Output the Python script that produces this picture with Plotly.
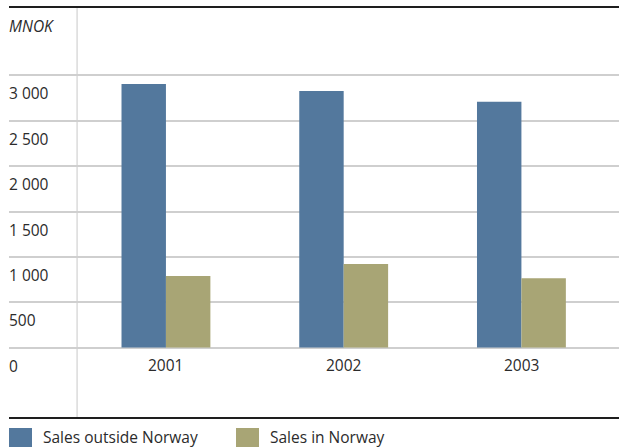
import plotly.graph_objects as go

# Annual sales, MNOK
years = ["2001", "2002", "2003"]
sales_outside = [2905, 2830, 2710]
sales_norway = [790, 920, 765]

series_names = ["Sales outside Norway", "Sales in Norway"]
series_colors = ["#53789d", "#a8a575"]

y_tickvals = [0, 500, 1000, 1500, 2000, 2500, 3000]
y_ticktext = ["0", "500", "1 000", "1 500", "2 000", "2 500", "3 000"]
unit_label = "MNOK"

FONT = "Open Sans"
FSIZE = 15.5
TEXT_COLOR = "#2b2b2b"

W, H = 619, 447
PLOT_L, PLOT_R, PLOT_T, PLOT_B = 9, 619, 8, 417


def paper_x(px):
    return (px - PLOT_L) / (PLOT_R - PLOT_L)


def paper_y(py):
    return (PLOT_B - py) / (PLOT_B - PLOT_T)


fig = go.Figure()
for name, vals, col in zip(series_names, [sales_outside, sales_norway], series_colors):
    fig.add_trace(go.Bar(x=years, y=vals, name=name, marker=dict(color=col, line=dict(width=0)),
                         showlegend=False))

annotations = []
# value-axis labels, left aligned, sitting just under each gridline
for v, t in zip(y_tickvals, y_ticktext):
    annotations.append(dict(x=0, xref="paper", y=v, yref="y", text=t, showarrow=False,
                            xanchor="left", yanchor="middle", yshift=-18, xshift=-2,
                            font=dict(family=FONT, size=FSIZE, color=TEXT_COLOR)))
# category labels under the zero line (positioned by category index)
for i, yr in enumerate(years):
    annotations.append(dict(x=i, xref="x", y=0, yref="y", text=yr, showarrow=False,
                            xanchor="center", yanchor="middle", yshift=-17,
                            font=dict(family=FONT, size=FSIZE, color=TEXT_COLOR)))
# unit label
annotations.append(dict(x=0, xref="paper", y=paper_y(26), yref="paper", text="<i>" + unit_label + "</i>",
                        showarrow=False, xanchor="left", yanchor="middle", xshift=-2,
                        font=dict(family=FONT, size=FSIZE, color=TEXT_COLOR)))

shapes = [
    # vertical divider between labels and bars
    dict(type="line", xref="x", yref="paper", x0=-0.5, x1=-0.5, y0=0, y1=1,
         line=dict(color="#c8c8c8", width=1), layer="below"),
]

# custom legend row below the chart
legend_items = [(9, 43), (236, 270)]
for (sq_x, txt_x), name, col in zip(legend_items, series_names, series_colors):
    shapes.append(dict(type="rect", xref="paper", yref="paper",
                       x0=paper_x(sq_x), x1=paper_x(sq_x + 23),
                       y0=paper_y(451), y1=paper_y(428),
                       fillcolor=col, line=dict(width=0)))
    annotations.append(dict(x=paper_x(txt_x), xref="paper", y=paper_y(437), yref="paper",
                            text=name, showarrow=False, xanchor="left", yanchor="middle", xshift=-2,
                            font=dict(family=FONT, size=FSIZE, color=TEXT_COLOR)))

fig.update_layout(
    width=W, height=H,
    margin=dict(l=PLOT_L, r=W - PLOT_R, t=PLOT_T, b=H - PLOT_B),
    paper_bgcolor="white", plot_bgcolor="white",
    barmode="group", bargap=0.5, bargroupgap=0,
    xaxis=dict(type="category", range=[-0.883, 2.549], showticklabels=False, showgrid=False,
               zeroline=False, showline=True, mirror=True, linecolor="#1e1e1e", linewidth=1.6,
               ticks=""),
    yaxis=dict(range=[-766, 3744], tickvals=y_tickvals, showticklabels=False, showgrid=True,
               gridcolor="#cfcfcf", gridwidth=1.5, zeroline=False, showline=False, ticks=""),
    annotations=annotations,
    shapes=shapes,
    showlegend=False,
)

fig.write_html("out.html")
